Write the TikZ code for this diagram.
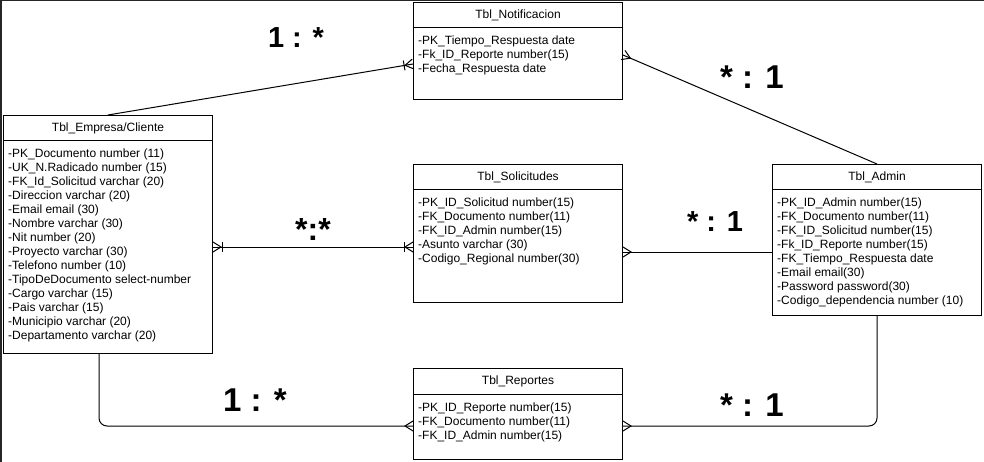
\documentclass[tikz,border=0pt]{standalone}
\usepackage{fontspec}
\setmainfont{Liberation Sans}
\usetikzlibrary{calc}
\begin{document}
\begin{tikzpicture}[x=1pt,y=-1pt,
  tbl/.style={draw, line width=1pt, anchor=north west, minimum width=209pt, inner sep=0pt},
  ttl/.style={font=\fontsize{12}{14}\selectfont, inner sep=0pt},
  attrs/.style={font=\fontsize{12}{14}\selectfont, align=left, anchor=north west, inner sep=0pt},
  rel/.style={line width=1pt},
  card/.style={font=\fontsize{29}{30}\selectfont\bfseries, inner sep=0pt},
  bigcard/.style={font=\fontsize{33}{34}\selectfont\bfseries, inner sep=0pt}]

\useasboundingbox (0,0) rectangle (984,462);
% outer frame
\draw[line width=2pt, black!85] (1,462) -- (1,0.5) -- (984,0.5);

% crow's foot (many) at #1, the line running toward #2
\newcommand\crowfoot[2]{%
  \draw[rel] ($(#1)!5pt!90:(#2)$) -- ($(#1)!8pt!(#2)$) -- ($(#1)!5pt!-90:(#2)$);}
% single bar (one) across the line near #1
\newcommand\onebar[2]{%
  \path ($(#1)!9pt!(#2)$) coordinate (barc);
  \draw[rel] ($(barc)!5pt!90:(#2)$) -- ($(barc)!5pt!-90:(#2)$);}

% tables
\node[tbl, minimum height=97pt]  (noti) at (413,2)   {};
\node[tbl, minimum height=238pt] (emp)  at (3,115)   {};
\node[tbl, minimum height=138pt] (sol)  at (413,164) {};
\node[tbl, minimum height=151pt] (adm)  at (772,164) {};
\node[tbl, minimum height=91pt]  (rep)  at (413,368) {};

% header rules
\foreach \t in {noti,emp,sol,adm,rep}
  \draw[line width=1pt] ($(\t.north west)+(0,26)$) -- ($(\t.north east)+(0,26)$);

% titles
\node[ttl] (notiT) at ($(noti.north)+(0,13)$) {Tbl\_Notificacion};
\node[ttl] (empT)  at ($(emp.north)+(0,13)$)  {Tbl\_Empresa/Cliente};
\node[ttl] (solT)  at ($(sol.north)+(0,13)$)  {Tbl\_Solicitudes};
\node[ttl] (admT)  at ($(adm.north)+(0,13)$)  {Tbl\_Admin};
\node[ttl] (repT)  at ($(rep.north)+(0,13)$)  {Tbl\_Reportes};

% attributes
\node[attrs] (notiA) at ($(noti.north west)+(5,34)$) {%
-PK\_Tiempo\_Respuesta date\\
-Fk\_ID\_Reporte number(15)\\
-Fecha\_Respuesta date};
\node[attrs] (empA) at ($(emp.north west)+(5,34)$) {%
-PK\_Documento number (11)\\
-UK\_N.Radicado number (15)\\
-FK\_Id\_Solicitud varchar (20)\\
-Direccion varchar (20)\\
-Email email (30)\\
-Nombre varchar (30)\\
-Nit number (20)\\
-Proyecto varchar (30)\\
-Telefono number (10)\\
-TipoDeDocumento select-number\\
-Cargo varchar (15)\\
-Pais varchar (15)\\
-Municipio varchar (20)\\
-Departamento varchar (20)};
\node[attrs] (solA) at ($(sol.north west)+(5,34)$) {%
-PK\_ID\_Solicitud number(15)\\
-FK\_Documento number(11)\\
-FK\_ID\_Admin number(15)\\
-Asunto varchar (30)\\
-Codigo\_Regional number(30)};
\node[attrs] (admA) at ($(adm.north west)+(5,34)$) {%
-PK\_ID\_Admin number(15)\\
-FK\_Documento number(11)\\
-FK\_ID\_Solicitud number(15)\\
-Fk\_ID\_Reporte number(15)\\
-FK\_Tiempo\_Respuesta date\\
-Email email(30)\\
-Password password(30)\\
-Codigo\_dependencia number (10)};
\node[attrs] (repA) at ($(rep.north west)+(5,35)$) {%
-PK\_ID\_Reporte number(15)\\
-FK\_Documento number(11)\\
-FK\_ID\_Admin number(15)};

% connector end points
\coordinate (n1) at ($(noti.north west)+(0,62)$);
\coordinate (n2) at ($(noti.north east)+(0,53)$);
\coordinate (s1) at ($(emp.north east)+(0,132)$);
\coordinate (s2) at (s1 -| sol.west);
\coordinate (a1) at ($(adm.north west)+(0,88)$);
\coordinate (a2) at (a1 -| sol.east);
\coordinate (r1) at ($(emp.south west)+(96,0)$);
\coordinate (r2) at ($(rep.north west)+(0,58)$);
\coordinate (r3) at ($(adm.south west)+(105,0)$);
\coordinate (r4) at ($(rep.north east)+(0,58)$);

% relationships
\draw[rel] (emp.north) -- (n1);
\crowfoot{n1}{emp.north} \onebar{n1}{emp.north}
\draw[rel] (adm.north) -- (n2);
\crowfoot{n2}{adm.north}
\draw[rel] (s1) -- (s2);
\crowfoot{s1}{s2} \onebar{s1}{s2}
\crowfoot{s2}{s1} \onebar{s2}{s1}
\draw[rel] (a1) -- (a2);
\crowfoot{a2}{a1}
\draw[rel, rounded corners=8pt] (r1) |- (r2);
\crowfoot{r2}{r1 |- r2}
\draw[rel, rounded corners=8pt] (r3) |- (r4);
\crowfoot{r4}{r3 |- r4}

% cardinalities
\node[card]    (c1) at (296,38)  {1 : *};
\node[bigcard] (c2) at (752,77)  {* : 1};
\node[card, font=\fontsize{32}{34}\selectfont\bfseries] (c3) at (313,229) {*:*};
\node[card]    (c4) at (715,222) {* : 1};
\node[bigcard] (c5) at (255,400) {1 : *};
\node[bigcard] (c6) at (752,405) {* : 1};
\end{tikzpicture}
\end{document}
